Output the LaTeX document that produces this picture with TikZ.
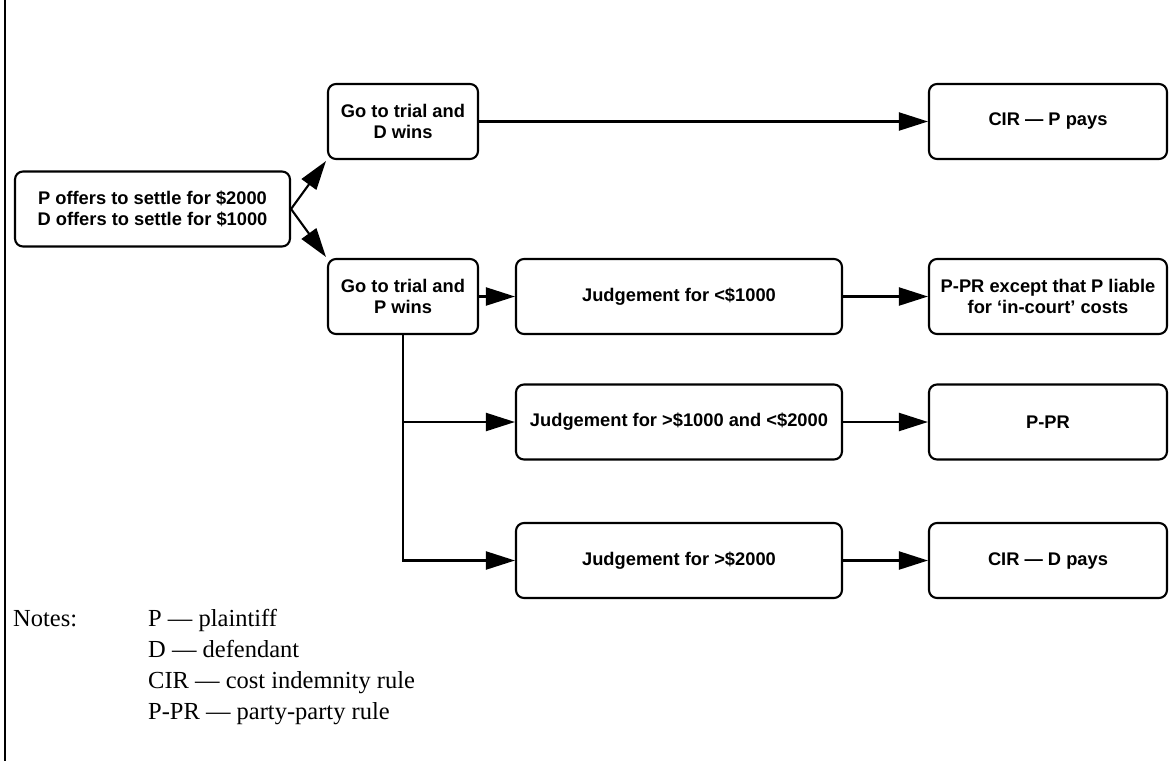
\documentclass[tikz,border=0pt]{standalone}
\usepackage{fontspec}
\setmainfont{Liberation Serif}
\newfontfamily\boxfont{Liberation Sans}
\usetikzlibrary{arrows.meta}
\tikzset{
  flowbox/.style={draw, line width=2.1pt, rounded corners=8pt, align=center,
    inner sep=0pt, minimum height=75pt,
    font=\boxfont\bfseries\fontsize{18.3}{21}\selectfont},
  conn/.style={line width=2.1pt, -{Triangle[length=29pt,width=18pt]}},
  plainline/.style={line width=2.1pt},
  notetext/.style={anchor=base west, inner sep=0pt, font=\fontsize{24.5}{29}\selectfont}
}
\begin{document}
\begin{tikzpicture}[x=1pt,y=-1pt]
\useasboundingbox (0,0) rectangle (1170,761);
\draw[line width=2.2pt] (5,0) -- (5,761);
% boxes
\node[flowbox, minimum width=275pt] (start) at (152.5,209) {P offers to settle for \$2000\\D offers to settle for \$1000};
\node[flowbox, minimum width=150pt] (dwins) at (403,121.5) {Go to trial and\\D wins};
\node[flowbox, minimum width=238pt] (cirp) at (1048,121.5) {CIR — P pays};
\node[flowbox, minimum width=150pt] (pwins) at (403,296.5) {Go to trial and\\P wins};
\node[flowbox, minimum width=326pt] (j1) at (679,296.5) {Judgement for <\$1000};
\node[flowbox, minimum width=238pt] (ppre) at (1048,296.5) {P-PR except that P liable\\for ‘in-court’ costs};
\node[flowbox, minimum width=326pt] (j2) at (679,422) {Judgement for >\$1000 and <\$2000};
\node[flowbox, minimum width=238pt] (ppr) at (1048,422) {P-PR};
\node[flowbox, minimum width=326pt] (j3) at (679,560.5) {Judgement for >\$2000};
\node[flowbox, minimum width=238pt] (cird) at (1048,560.5) {CIR — D pays};
% connectors
\draw[conn] (start.east) -- ([shift={(-1pt,-1pt)}]dwins.south west);
\draw[conn] (start.east) -- ([shift={(-1pt,1pt)}]pwins.north west);
\draw[conn] (dwins.east) -- (cirp.west);
\draw[conn] (pwins.east) -- (j1.west);
\draw[conn] (j1.east) -- (ppre.west);
\coordinate (b2) at (pwins.south |- j2.west);
\coordinate (b3) at (pwins.south |- j3.west);
\draw[plainline] (pwins.south) -- ([yshift=-1pt]b3);
\draw[conn] (b2) -- (j2.west);
\draw[conn] (b3) -- (j3.west);
\draw[conn] (j2.east) -- (ppr.west);
\draw[conn] (j3.east) -- (cird.west);
% notes
\node[notetext] (notes) at (13,626) {Notes:};
\node[notetext] (n1) at (148,626) {P — plaintiff};
\node[notetext] (n2) at (148,657) {D — defendant};
\node[notetext] (n3) at (148,688) {CIR — cost indemnity rule};
\node[notetext] (n4) at (148,719) {P-PR — party-party rule};
\end{tikzpicture}
\end{document}
